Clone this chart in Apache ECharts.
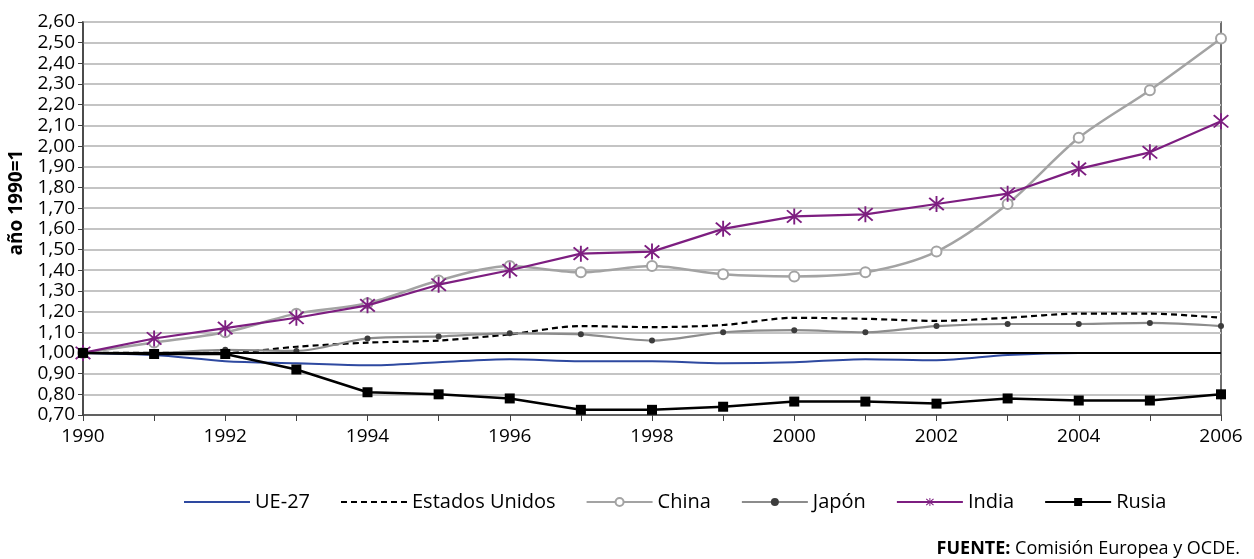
<!DOCTYPE html>
<html>
<head>
<meta charset="utf-8">
<script src="https://cdn.jsdelivr.net/npm/echarts@6/dist/echarts.min.js"></script>
<style>
	html, body { margin: 0; padding: 0; background: #fff; }
	#chart { width: 1254px; height: 559px; }
</style>
</head>
<body>
<div id="chart"></div>
<script>
	var years = ['1990','1991','1992','1993','1994','1995','1996','1997','1998','1999','2000','2001','2002','2003','2004','2005','2006'];
	var ue27 = [1.00, 0.99, 0.96, 0.95, 0.94, 0.955, 0.97, 0.96, 0.96, 0.95, 0.955, 0.97, 0.965, 0.99, 1.00, 1.00, 1.00];
	var eeuu = [1.00, 1.00, 1.00, 1.03, 1.05, 1.06, 1.09, 1.13, 1.125, 1.135, 1.17, 1.165, 1.155, 1.17, 1.19, 1.19, 1.17];
	var china = [1.00, 1.05, 1.10, 1.19, 1.24, 1.35, 1.42, 1.39, 1.42, 1.38, 1.37, 1.39, 1.49, 1.72, 2.04, 2.27, 2.52];
	var japon = [1.00, 1.00, 1.015, 1.01, 1.07, 1.08, 1.095, 1.09, 1.06, 1.10, 1.11, 1.10, 1.13, 1.14, 1.14, 1.145, 1.13];
	var india = [1.00, 1.07, 1.12, 1.17, 1.23, 1.33, 1.40, 1.48, 1.49, 1.60, 1.66, 1.67, 1.72, 1.77, 1.89, 1.97, 2.12];
	var rusia = [1.00, 0.995, 0.995, 0.92, 0.81, 0.80, 0.78, 0.725, 0.725, 0.74, 0.765, 0.765, 0.755, 0.78, 0.77, 0.77, 0.80];
	var yMin = 0.7, yMax = 2.6, yStep = 0.1;

	var fuente = "'Open Sans', 'Noto Sans', sans-serif";
	// asterisco para India
	var star = 'path://M9 0L11 0L11 20L9 20Z M1.5 3L3 1.5L18.5 17L17 18.5Z M17 1.5L18.5 3L3 18.5L1.5 17Z';

	var myChart = echarts.init(document.getElementById('chart'));
	myChart.setOption({
		animation: false,
		textStyle: { fontFamily: fuente },
		grid: {
			left: 83, right: 33, top: 22, bottom: 144,
			outerBoundsMode: 'none',
			containLabel: false,
			show: true, borderColor: '#404040', borderWidth: 1.5
		},
		legend: {
			bottom: 42,
			left: 178,
			itemWidth: 66,
			itemHeight: 10,
			itemGap: 30,
			textStyle: { fontSize: 20, color: '#000' },
			data: [
				{ name: 'UE-27', itemStyle: { opacity: 0 } },
				{ name: 'Estados Unidos', itemStyle: { opacity: 0 } },
				'China', 'Japón', 'India', 'Rusia'
			]
		},
		xAxis: {
			type: 'category',
			boundaryGap: false,
			data: years,
			axisLine: { lineStyle: { color: '#404040', width: 1.5 } },
			axisTick: { interval: 0, length: 6, lineStyle: { color: '#404040' } },
			axisLabel: { interval: 1, fontSize: 19, color: '#000', margin: 12 },
			splitLine: { show: false }
		},
		yAxis: {
			type: 'value',
			min: yMin, max: yMax, interval: yStep,
			name: 'año 1990=1',
			nameLocation: 'middle',
			nameGap: 56,
			nameRotate: 90,
			nameTextStyle: { fontSize: 19, fontWeight: 'bold', color: '#000', padding: [0, 0, 0, 32] },
			axisLine: { show: true, lineStyle: { color: '#404040', width: 1.5 } },
			axisTick: { show: true, length: 5, lineStyle: { color: '#404040' } },
			axisLabel: {
				fontSize: 19, color: '#000', margin: 8,
				formatter: function (v) { return v.toFixed(2).replace('.', ','); }
			},
			splitLine: { lineStyle: { color: '#c4c4c4', width: 2 } }
		},
		graphic: [{
			type: 'text',
			right: 14, bottom: 1,
			style: {
				text: '{b|FUENTE:} Comisión Europea y OCDE.',
				fontSize: 18, fill: '#000', fontFamily: fuente,
				rich: { b: { fontWeight: 'bold', fontSize: 18, fontFamily: fuente } }
			}
		}],
		series: [
			{
				name: 'UE-27', type: 'line', smooth: 0.3, data: ue27,
				symbol: 'none', z: 3,
				lineStyle: { color: '#2e49a0', width: 2 },
				itemStyle: { color: '#2e49a0' }
			},
			{
				name: 'Estados Unidos', type: 'line', smooth: 0.3, data: eeuu,
				symbol: 'none',
				lineStyle: { color: '#000', width: 2.2, type: [6, 4] },
				itemStyle: { color: '#000' }
			},
			{
				name: 'China', type: 'line', smooth: 0.3, data: china,
				symbol: 'emptyCircle', symbolSize: 10,
				lineStyle: { color: '#a3a3a3', width: 2.5 },
				itemStyle: { color: '#a3a3a3', borderWidth: 1.8 }
			},
			{
				name: 'Japón', type: 'line', smooth: 0.3, data: japon,
				symbol: 'circle', symbolSize: 6,
				lineStyle: { color: '#8c8c8c', width: 2.2 },
				itemStyle: { color: '#3c3c3c' }
			},
			{
				name: 'India', type: 'line', data: india,
				symbol: star, symbolSize: 16, z: 4,
				lineStyle: { color: '#7d1e80', width: 2.2 },
				itemStyle: { color: '#7d1e80' }
			},
			{
				name: 'Rusia', type: 'line', data: rusia,
				symbol: 'rect', symbolSize: 10, z: 4,
				lineStyle: { color: '#000', width: 2.5 },
				itemStyle: { color: '#000' },
				markLine: {
					silent: true, symbol: 'none', label: { show: false },
					lineStyle: { color: '#000', width: 2, type: 'solid' },
					data: [{ yAxis: 1 }]
				}
			}
		]
	});
</script>
</body>
</html>
